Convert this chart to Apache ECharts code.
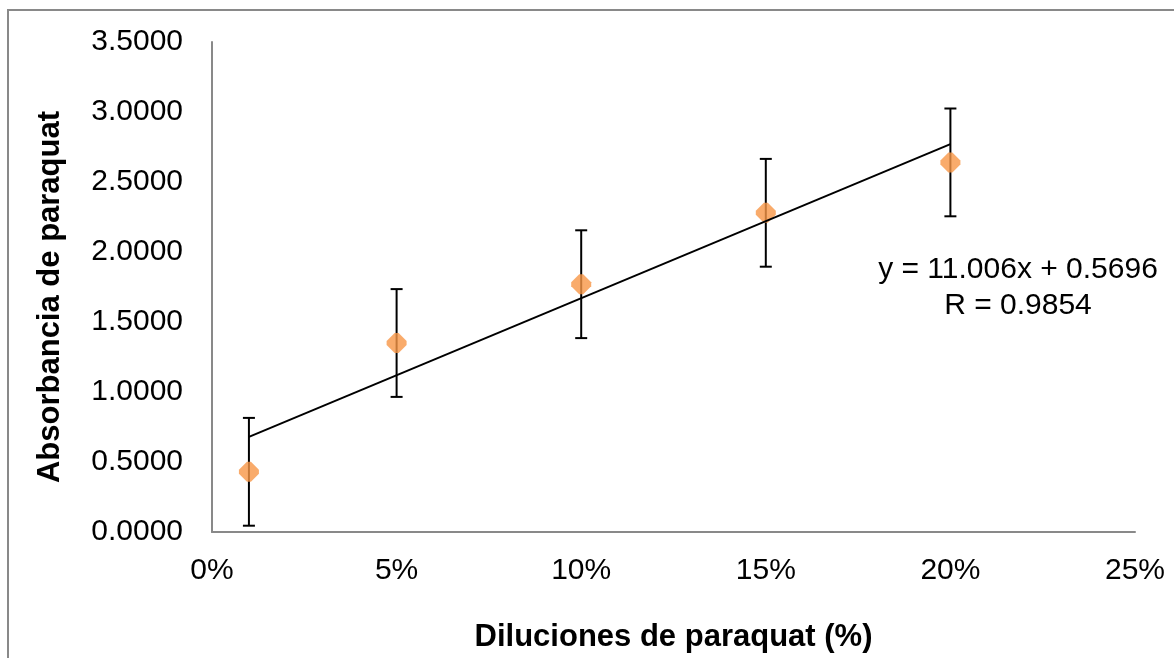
<!DOCTYPE html>
<html>
<head>
<meta charset="utf-8">
<script src="https://cdn.jsdelivr.net/npm/echarts@6/dist/echarts.min.js"></script>
<style>
html,body{margin:0;padding:0;background:#fff;}
#chart{width:1174px;height:658px;}
</style>
</head>
<body>
<div id="chart"></div>
<script>
// Data
const xValues = [0.01, 0.05, 0.10, 0.15, 0.20];          // dilutions (fraction)
const yValues = [0.43, 1.35, 1.77, 2.28, 2.64];          // absorbance
const yErrors = [0.385, 0.385, 0.385, 0.385, 0.385];     // error bar half-length
const trendSlope = 11.006;
const trendIntercept = 0.5696;
const trendRange = [0.01, 0.20];
const equationText = ['y = 11.006x + 0.5696', 'R = 0.9854'];
const xAxisTitle = 'Diluciones de paraquat (%)';
const yAxisTitle = 'Absorbancia de paraquat';

const FONT = '"Liberation Sans", Arial, sans-serif';
const scatterData = xValues.map((x, i) => [x, yValues[i]]);
const errorData = xValues.map((x, i) => [x, yValues[i] - yErrors[i], yValues[i] + yErrors[i]]);
const trendData = trendRange.map(x => [x, trendSlope * x + trendIntercept]);

const chart = echarts.init(document.getElementById('chart'));
chart.setOption({
  animation: false,
  backgroundColor: '#fff',
  grid: { left: 212, right: 39, top: 42, bottom: 126 },
  xAxis: {
    type: 'value', min: 0, max: 0.25, interval: 0.05,
    name: xAxisTitle, nameLocation: 'middle', nameGap: 90,
    nameTextStyle: { fontFamily: FONT, fontSize: 31, fontWeight: 'bold', color: '#000' },
    axisLine: { show: true, lineStyle: { color: '#898989', width: 2 } },
    axisTick: { show: false },
    splitLine: { show: false },
    axisLabel: { fontFamily: FONT, fontSize: 30, color: '#000', margin: 24,
      formatter: v => Math.round(v * 100) + '%' }
  },
  yAxis: {
    type: 'value', min: 0, max: 3.5, interval: 0.5,
    name: yAxisTitle, nameLocation: 'middle', nameGap: 146, nameRotate: 90,
    nameTextStyle: { fontFamily: FONT, fontSize: 31, fontWeight: 'bold', color: '#000',
      padding: [0, 20, 0, 0] },
    axisLine: { show: true, lineStyle: { color: '#898989', width: 2 } },
    axisTick: { show: false },
    splitLine: { show: false },
    axisLabel: { fontFamily: FONT, fontSize: 30, color: '#000', margin: 29,
      formatter: v => v.toFixed(4) }
  },
  graphic: [
    { type: 'rect', shape: { x: 8, y: 10, width: 1300, height: 800 },
      style: { fill: 'none', stroke: '#898989', lineWidth: 2 }, z: 0, silent: true },
    { type: 'text', x: 1018, y: 252, z: 10,
      style: { text: equationText.join('\n'), fontFamily: FONT, fontSize: 30, fill: '#000',
        align: 'center', lineHeight: 36 } }
  ],
  series: [
    {
      type: 'custom', z: 2, data: errorData,
      renderItem: function (params, api) {
        const x = api.value(0);
        const top = api.coord([x, api.value(2)]);
        const bot = api.coord([x, api.value(1)]);
        const hw = 6;
        const st = { stroke: '#000', lineWidth: 2 };
        return { type: 'group', children: [
          { type: 'line', shape: { x1: top[0], y1: top[1], x2: bot[0], y2: bot[1] }, style: st },
          { type: 'line', shape: { x1: top[0] - hw, y1: top[1], x2: top[0] + hw, y2: top[1] }, style: st },
          { type: 'line', shape: { x1: bot[0] - hw, y1: bot[1], x2: bot[0] + hw, y2: bot[1] }, style: st }
        ]};
      }
    },
    {
      type: 'scatter', z: 3, data: scatterData,
      symbol: 'path://M8,0 L12,0 L20,8 L20,12 L12,20 L8,20 L0,12 L0,8 Z',
      symbolSize: [20, 20],
      itemStyle: { color: '#F79646' }
    },
    {
      type: 'line', z: 4, data: trendData, symbol: 'none',
      lineStyle: { color: '#000', width: 2 }
    }
  ]
});
</script>
</body>
</html>
